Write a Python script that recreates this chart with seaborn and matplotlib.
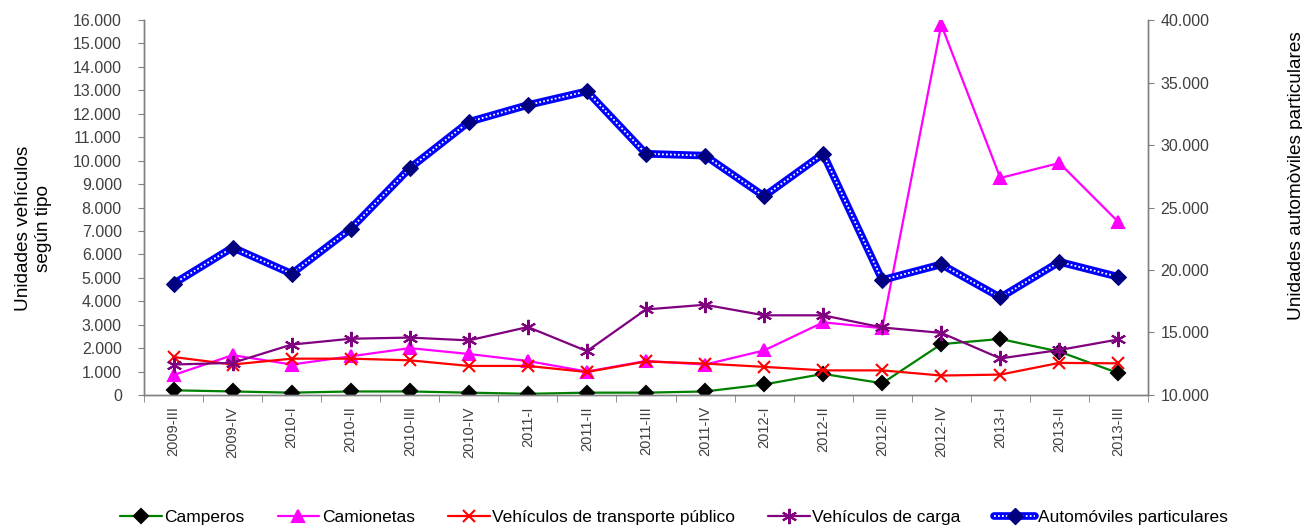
import matplotlib
matplotlib.use("Agg")
import matplotlib.pyplot as plt
import matplotlib.ticker as mticker
from matplotlib.lines import Line2D
import seaborn as sns
import pandas as pd

periods = ["2009-III", "2009-IV", "2010-I", "2010-II", "2010-III", "2010-IV",
           "2011-I", "2011-II", "2011-III", "2011-IV", "2012-I", "2012-II",
           "2012-III", "2012-IV", "2013-I", "2013-II", "2013-III"]
camperos = [200, 150, 100, 150, 150, 100, 50, 100, 100, 150, 450, 900, 500, 2170, 2390, 1850, 930]
camionetas = [850, 1700, 1300, 1650, 2000, 1750, 1450, 1000, 1450, 1300, 1900, 3100, 2850, 15800, 9260, 9900, 7380]
transporte = [1620, 1300, 1550, 1550, 1480, 1240, 1240, 980, 1430, 1340, 1200, 1050, 1050, 830, 870, 1370, 1350]
carga = [1300, 1370, 2150, 2400, 2450, 2330, 2900, 1870, 3650, 3850, 3400, 3400, 2880, 2650, 1560, 1920, 2370]
automoviles = [18900, 21800, 19700, 23300, 28150, 31850, 33200, 34300, 29300, 29150, 25900, 29300, 19200, 20450, 17800, 20650, 19450]

sns.set_style("white")
plt.rcParams['font.family'] = ['Liberation Sans', 'DejaVu Sans']

fig = plt.figure(figsize=(13.02, 5.27), dpi=100)
ax = fig.add_axes([0.1106, 0.2505, 0.7711, 0.7115])
ax2 = ax.twinx()

x = list(range(len(periods)))
txt = "#404040"

series = [
    (camperos, "Camperos", "#008000", "D", "black", 7),
    (camionetas, "Camionetas", "#FF00FF", "^", "#FF00FF", 9),
    (transporte, "Vehículos de transporte público", "#FF0000", "x", "#FF0000", 9),
    (carga, "Vehículos de carga", "#800080", (6, 2, 0), "#800080", 11),
]
handles = []
for vals, name, col, mk, mcol, ms in series:
    df = pd.DataFrame({"x": x, "y": vals})
    sns.lineplot(data=df, x="x", y="y", ax=ax, color=col, lw=1.6, marker=mk,
                 markersize=ms, markerfacecolor=mcol, markeredgecolor=mcol,
                 markeredgewidth=1.5, sort=False)
    handles.append(Line2D([], [], color=col, lw=1.6, marker=mk, markersize=ms,
                          markerfacecolor=mcol, markeredgecolor=mcol, markeredgewidth=1.5))

dfa = pd.DataFrame({"x": x, "y": automoviles})
sns.lineplot(data=dfa, x="x", y="y", ax=ax2, color="#0000FF", lw=5.5, sort=False)
sns.lineplot(data=dfa, x="x", y="y", ax=ax2, color="white", lw=1.3, ls=(0, (1, 1.2)), sort=False)
sns.lineplot(data=dfa, x="x", y="y", ax=ax2, color="#0000FF", lw=0, marker="D",
             markersize=8, markerfacecolor="#000080", markeredgecolor="#000080", sort=False)
ha = (Line2D([], [], color="#0000FF", lw=5.5),
      Line2D([], [], color="white", lw=1.3, ls=(0, (1, 1.2))),
      Line2D([], [], lw=0, marker="D", markersize=8, markerfacecolor="#000080",
             markeredgecolor="#000080"))
handles.append(ha)
labels = [s[1] for s in series] + ["Automóviles particulares"]

fmt = mticker.FuncFormatter(lambda v, p: f"{int(v):,}".replace(",", "."))
ax.set_xlim(-0.5, len(periods) - 0.5)
ax.set_ylim(0, 16000)
ax.yaxis.set_major_locator(mticker.MultipleLocator(1000))
ax.yaxis.set_major_formatter(fmt)
ax2.set_ylim(10000, 40000)
ax2.yaxis.set_major_locator(mticker.MultipleLocator(5000))
ax2.yaxis.set_major_formatter(fmt)

ax.set_xticks(x)
ax.set_xticklabels(periods, rotation=90, fontsize=10.5, color=txt)
ax.set_xticks([i + 0.5 for i in range(-1, len(periods))], minor=True)
ax.tick_params(axis="x", which="major", length=0, pad=8)
ax.tick_params(axis="x", which="minor", length=5, color="#808080", direction="out", bottom=True)
ax.tick_params(axis="y", length=4, color="#808080", direction="out", left=True, labelsize=11.5, labelcolor=txt, pad=12)
ax2.tick_params(axis="y", length=4, color="#808080", direction="out", right=True, labelsize=11.5, labelcolor=txt, pad=5)

for a in (ax, ax2):
    a.set_xlabel("")
    a.set_ylabel("")
    for s in ("left", "right", "bottom"):
        a.spines[s].set_color("#808080")
        a.spines[s].set_linewidth(1)
    a.spines["top"].set_visible(False)

ax.set_ylabel("Unidades vehículos\nsegún tipo", fontsize=13.7, color="black")
ax.yaxis.set_label_coords(-0.092, 0.445)
ax2.set_ylabel("Unidades automòviles particulares", fontsize=13.7, color="black")
ax2.yaxis.set_label_coords(1.139, 0.584)

fig.legend(handles, labels, loc="center", bbox_to_anchor=(0.5177, 0.018), ncol=5,
           frameon=False, fontsize=12.5, handlelength=2.4, columnspacing=1.9,
           handletextpad=0.15, labelcolor="black")

fig.savefig("out.png", dpi=100)
